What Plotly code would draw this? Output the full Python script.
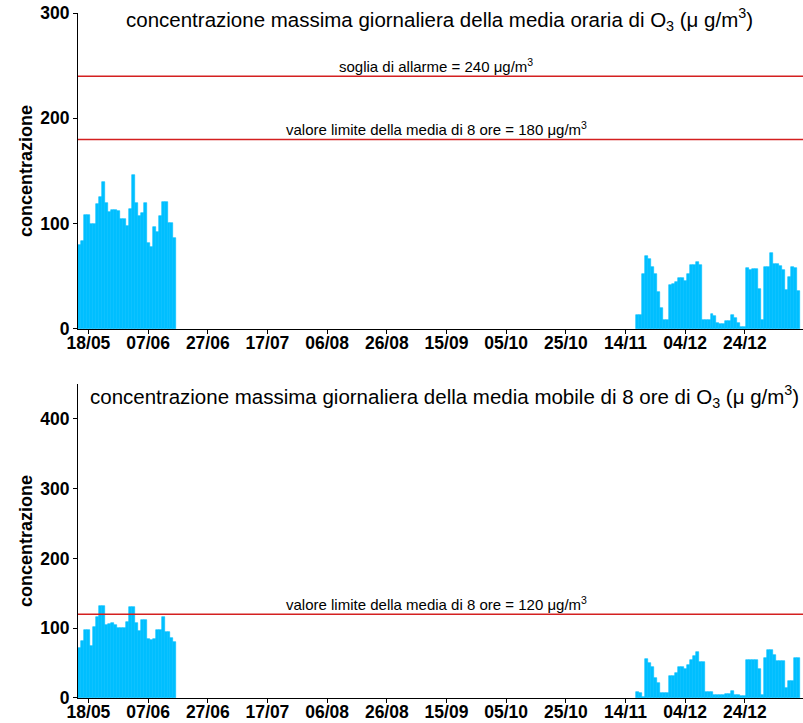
import pandas as pd
import plotly.graph_objects as go
from plotly.subplots import make_subplots

# ---- data ----
start_spring = "2019-05-15"
start_autumn = "2019-11-18"

orario_spring = [80, 84, 108, 108, 100, 100, 119, 125, 140, 120, 111, 113, 113, 112, 104, 104, 98,
                 114, 146, 120, 107, 110, 120, 82, 78, 97, 92, 107, 121, 121, 101, 101, 86]
orario_autumn = [13, 13, 52, 69, 66, 59, 52, 35, 20, 9, 9, 42, 43, 45, 48, 48, 46, 52, 61, 61,
                 64, 61, 9, 9, 9, 14, 12, 6, 5, 5, 8, 8, 13, 10, 6, 2, 2, 58, 56, 57,
                 57, 38, 9, 59, 59, 72, 62, 62, 60, 56, 37, 49, 59, 58, 36]
mobile_spring = [72, 82, 98, 97, 74, 102, 116, 132, 132, 104, 106, 107, 104, 100, 100, 100, 109,
                 130, 130, 108, 96, 112, 112, 85, 83, 84, 98, 98, 116, 94, 94, 86, 80]
mobile_autumn = [9, 7, 2, 56, 50, 44, 29, 22, 7, 7, 7, 32, 32, 36, 45, 45, 41, 47, 55, 60,
                 66, 51, 51, 8, 8, 8, 5, 5, 5, 5, 6, 6, 10, 5, 5, 3, 3, 55, 55, 55,
                 55, 41, 5, 57, 69, 69, 62, 53, 53, 53, 15, 24, 24, 58, 58]

tick_dates = ["2019-05-18", "2019-06-07", "2019-06-27", "2019-07-17", "2019-08-06", "2019-08-26",
              "2019-09-15", "2019-10-05", "2019-10-25", "2019-11-14", "2019-12-04", "2019-12-24"]
tick_labels = ["18/05", "07/06", "27/06", "17/07", "06/08", "26/08",
               "15/09", "05/10", "25/10", "14/11", "04/12", "24/12"]

soglia_allarme = 240
limite_orario = 180
limite_mobile = 120

x_range = ["2019-05-14 12:00", "2020-01-12 12:00"]

# ---- figure ----
BLUE = "#00BFFF"
RED = "#D42020"
FONT = "Liberation Sans, Arial"

fig = make_subplots(rows=2, cols=1, shared_xaxes=False, vertical_spacing=0.08)

DAY = 86400000

def add_bars(values, start, row):
    x = pd.date_range(start, periods=len(values), freq="D")
    fig.add_trace(go.Bar(x=x, y=values, width=DAY,
                         marker=dict(color=BLUE, line=dict(width=0.6, color=BLUE)),
                         showlegend=False, hoverinfo="x+y"), row=row, col=1)

add_bars(orario_spring, start_spring, 1)
add_bars(orario_autumn, start_autumn, 1)
add_bars(mobile_spring, start_spring, 2)
add_bars(mobile_autumn, start_autumn, 2)

fig.update_layout(
    width=803, height=723,
    margin=dict(l=78, r=0, t=13, b=25),
    plot_bgcolor="white", paper_bgcolor="white",
    bargap=0, barmode="overlay",
    font=dict(family=FONT, color="black"),
)

tickf = dict(family=FONT, size=17.5, color="black", weight="bold")
xcommon = dict(range=x_range, type="date", tickmode="array", tickvals=tick_dates, ticktext=tick_labels,
               showline=True, linecolor="black", linewidth=1.2, ticks="outside", ticklen=4, tickwidth=1.2,
               tickcolor="black", showgrid=False, zeroline=False, automargin=False, tickfont=tickf,
               ticklabeloverflow="allow", ticklabelstandoff=-6)
ycommon = dict(showline=True, linecolor="black", linewidth=1.2, ticks="outside", ticklen=4, tickwidth=1.2,
               tickcolor="black", showgrid=False, zeroline=False, automargin=False, tickfont=tickf,
               ticklabeloverflow="allow",
               title=dict(text="concentrazione", font=dict(family=FONT, size=18, color="black", weight="bold"),
                          standoff=2))

fig.update_layout(
    xaxis=dict(**xcommon, domain=[0, 1]),
    xaxis2=dict(**xcommon, domain=[0, 1]),
    yaxis=dict(**ycommon, domain=[0.5387, 1.0], range=[0, 300], tickvals=[0, 100, 200, 300]),
    yaxis2=dict(**ycommon, domain=[0.0, 0.4584], range=[0, 450], tickvals=[0, 100, 200, 300, 400]),
)

# threshold lines
for y, ref in [(soglia_allarme, "y"), (limite_orario, "y"), (limite_mobile, "y2")]:
    fig.add_shape(type="line", xref="paper", yref=ref, x0=0, x1=1, y0=y, y1=y,
                  line=dict(color=RED, width=1.5))

ann_font = dict(family=FONT, size=15, color="black")
fig.add_annotation(xref="paper", yref="y", x=0.494, y=soglia_allarme, yanchor="bottom", showarrow=False,
                   text=f"soglia di allarme = {soglia_allarme} μg/m<sup>3</sup>", font=ann_font, yshift=-1)
fig.add_annotation(xref="paper", yref="y", x=0.494, y=limite_orario, yanchor="bottom", showarrow=False,
                   text=f"valore limite della media di 8 ore = {limite_orario} μg/m<sup>3</sup>",
                   font=ann_font, yshift=-1)
fig.add_annotation(xref="paper", yref="y2", x=0.494, y=limite_mobile, yanchor="bottom", showarrow=False,
                   text=f"valore limite della media di 8 ore = {limite_mobile} μg/m<sup>3</sup>",
                   font=ann_font, yshift=-1)

title_font = dict(family=FONT, size=20.5, color="black")
fig.add_annotation(xref="paper", yref="paper", x=0.498, y=1.0, yanchor="top", showarrow=False, yshift=10,
                   text="concentrazione massima giornaliera della media oraria di O<sub>3</sub> (μ g/m<sup>3</sup>)",
                   font=title_font)
fig.add_annotation(xref="paper", yref="paper", x=0.505, y=0.4584, yanchor="top", showarrow=False, yshift=4,
                   text="concentrazione massima giornaliera della media mobile di 8 ore di O<sub>3</sub> (μ g/m<sup>3</sup>)",
                   font=title_font)

# remove the browser's default page margin so the figure fills the 803x723 window exactly
fig.write_html("out.html", config={"displayModeBar": False},
               post_script="document.body.style.margin='0';")
